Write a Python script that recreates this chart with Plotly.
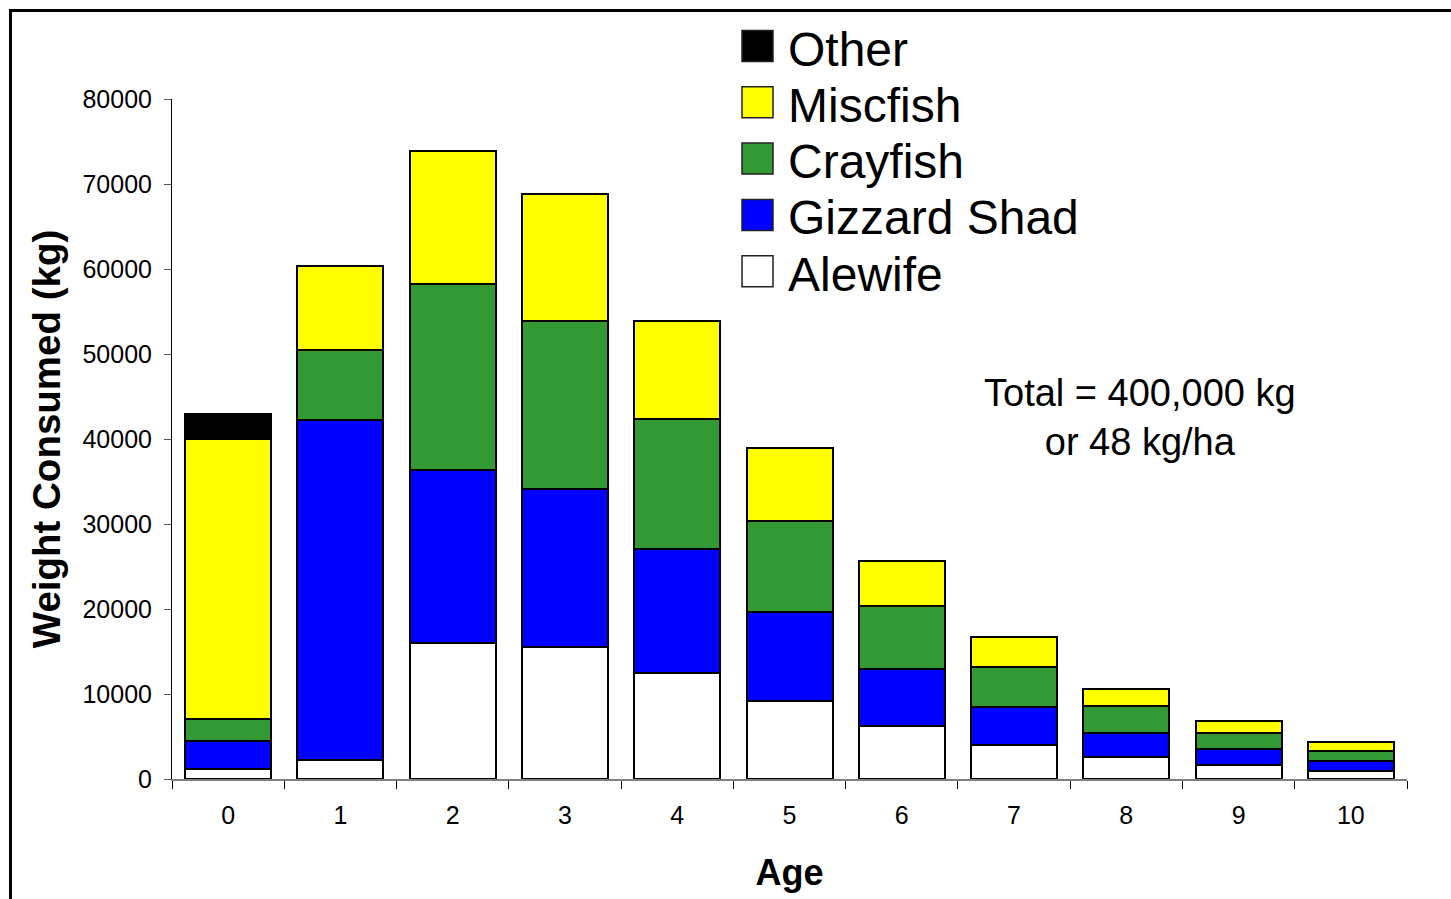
import plotly.graph_objects as go

# ---- data (kg consumed by age class, stacked by prey) ----
ages = ["0", "1", "2", "3", "4", "5", "6", "7", "8", "9", "10"]
alewife = [1200, 2200, 16000, 15500, 12500, 9200, 6200, 4000, 2600, 1700, 1000]
gizzard_shad = [3300, 40000, 20300, 18600, 14600, 10400, 6800, 4500, 2850, 1850, 1150]
crayfish = [2550, 8250, 21900, 19800, 15300, 10800, 7300, 4700, 3100, 1900, 1200]
miscfish = [32950, 9850, 15700, 14900, 11500, 8500, 5400, 3500, 2050, 1400, 950]
other = [3000, 0, 0, 0, 0, 0, 0, 0, 0, 0, 0]

series_names = ["Alewife", "Gizzard Shad", "Crayfish", "Miscfish", "Other"]
series_values = [alewife, gizzard_shad, crayfish, miscfish, other]
series_colors = ["#FFFFFF", "#0000FF", "#339933", "#FFFF00", "#000000"]

y_ticks = [0, 10000, 20000, 30000, 40000, 50000, 60000, 70000, 80000]

FONT = "Liberation Sans, Arial, sans-serif"

# plot-area geometry (pixels)
W, H = 1451, 899
L, R, T, B = 172, 1407, 99, 779


def px(x):
    return (x - L) / (R - L)


def py(y):
    return (B - y) / (B - T)


fig = go.Figure()
for name, vals, col in zip(series_names, series_values, series_colors):
    fig.add_trace(go.Bar(
        x=ages, y=vals, name=name,
        marker=dict(color=col, line=dict(color="#000000", width=2)),
        showlegend=False,
    ))

shapes = []
annotations = []

# outer chart border (extends beyond the photographed window, as in the original)
shapes.append(dict(type="rect", xref="paper", yref="paper",
                   x0=px(10.5), x1=px(1600), y0=py(1100), y1=py(10.5),
                   line=dict(color="#000000", width=3), fillcolor="rgba(0,0,0,0)",
                   layer="above"))

# custom legend (top -> bottom: Other, Miscfish, Crayfish, Gizzard Shad, Alewife)
leg_y0 = 46
leg_dy = 56.3
for i, (name, col) in enumerate(zip(series_names[::-1], series_colors[::-1])):
    cy = leg_y0 + i * leg_dy
    shapes.append(dict(type="rect", xref="paper", yref="paper",
                       x0=px(742), x1=px(773), y0=py(cy + 15.5), y1=py(cy - 15.5),
                       line=dict(color="#222222", width=1.5), fillcolor=col))
    annotations.append(dict(xref="paper", yref="paper", x=px(786), y=py(cy + 3),
                            xanchor="left", yanchor="middle", showarrow=False,
                            text=name, font=dict(family=FONT, size=48, color="#000000")))

annotations.append(dict(xref="paper", yref="paper", x=px(1140), y=py(417),
                        xanchor="center", yanchor="middle", showarrow=False,
                        text="Total = 400,000 kg<br>or 48 kg/ha",
                        font=dict(family=FONT, size=38, color="#000000")))

fig.update_layout(
    width=W, height=H, autosize=False,
    margin=dict(l=L, r=W - R, t=T, b=H - B, pad=0),
    barmode="stack", bargap=0.234,
    plot_bgcolor="#FFFFFF", paper_bgcolor="#FFFFFF",
    font=dict(family=FONT, color="#000000"),
    shapes=shapes, annotations=annotations,
    showlegend=False,
)

fig.update_xaxes(
    type="category", showgrid=False, zeroline=False,
    showline=True, linecolor="#808080", linewidth=1.5,
    ticks="outside", tickson="boundaries", ticklen=8, tickcolor="#000000", tickwidth=1,
    tickfont=dict(family=FONT, size=25, color="#000000"),
    ticklabelstandoff=13,
    title=dict(text="<b>Age</b>", font=dict(family=FONT, size=36, color="#000000"), standoff=32),
)

fig.update_yaxes(
    range=[0, 80000], tickvals=y_ticks, tickformat="d",
    showgrid=False, zeroline=False,
    showline=True, linecolor="#000000", linewidth=1,
    ticks="outside", ticklen=7, tickcolor="#555555", tickwidth=1,
    tickfont=dict(family=FONT, size=25, color="#000000"),
    ticklabelstandoff=7,
    title=dict(text="<b>Weight Consumed (kg)</b>", font=dict(family=FONT, size=38.5, color="#000000"), standoff=9),
)

fig.write_html("out.html")
